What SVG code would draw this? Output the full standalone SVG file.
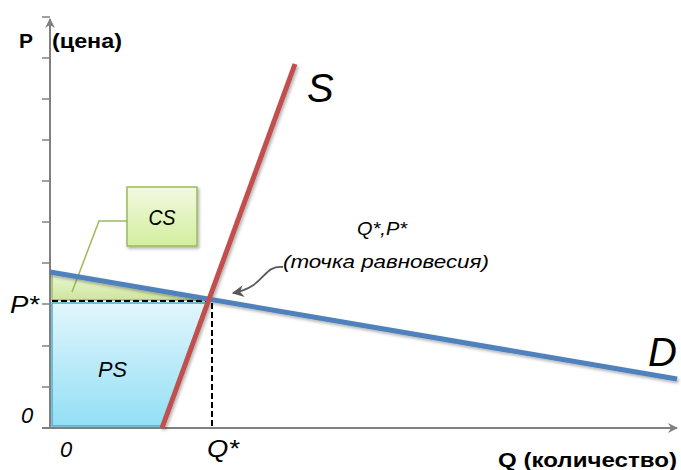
<svg xmlns="http://www.w3.org/2000/svg" width="681" height="470" viewBox="0 0 681 470">
<defs>
<style>
.axis{stroke:#808080;stroke-width:2;fill:none}
.tick{stroke:#808080;stroke-width:1.5}
.it{font-family:"Liberation Sans",Arial,sans-serif;font-style:italic;fill:#000}
.bd{font-family:"Liberation Sans",Arial,sans-serif;font-weight:bold;fill:#000}
.dash{stroke:#000;stroke-width:2;stroke-dasharray:6,3;fill:none}
</style>
<linearGradient id="gPS" x1="0" y1="0" x2="0" y2="1">
<stop offset="0" stop-color="#e2f6fc"/>
<stop offset="1" stop-color="#93dff5"/>
</linearGradient>
<linearGradient id="gCS" x1="0" y1="0" x2="0" y2="1">
<stop offset="0" stop-color="#eef7d8"/>
<stop offset="1" stop-color="#cde59c"/>
</linearGradient>
<linearGradient id="gBox" x1="0" y1="0" x2="0" y2="1">
<stop offset="0" stop-color="#f1f9e0"/>
<stop offset="1" stop-color="#d3ee9f"/>
</linearGradient>
<filter id="sh" x="-10%" y="-10%" width="130%" height="130%">
<feDropShadow dx="1.5" dy="2" stdDeviation="1.5" flood-color="#000" flood-opacity="0.3"/>
</filter>
<marker id="ah" viewBox="0 0 10 10" refX="9" refY="5" markerWidth="10" markerHeight="10" markerUnits="userSpaceOnUse" orient="auto">
<path d="M0,0 L10,5 L0,10 L3,5 Z" fill="#808080"/>
</marker>
<marker id="ah2" viewBox="0 0 10 10" refX="9" refY="5" markerWidth="12" markerHeight="12" markerUnits="userSpaceOnUse" orient="auto">
<path d="M0,0 L10,5 L0,10 L3,5 Z" fill="#595959"/>
</marker>
</defs>

<g id="areas">
<polygon id="ps-area" points="52,303 206,303 162,426 52,426" fill="url(#gPS)" stroke="#4bacc6" stroke-width="1.5"/>
<polygon id="cs-area" points="52,273 52,300 206,300" fill="url(#gCS)" stroke="#9bbb59" stroke-width="1.5"/>
</g>

<g id="axes">
<line class="axis" x1="50" y1="428" x2="50" y2="19" marker-end="url(#ah)"/>
<line class="axis" x1="42" y1="428" x2="677" y2="428" marker-end="url(#ah)"/>
<g class="tick">
<line x1="42" y1="17" x2="50" y2="17"/>
<line x1="42" y1="58" x2="50" y2="58"/>
<line x1="42" y1="99" x2="50" y2="99"/>
<line x1="42" y1="140" x2="50" y2="140"/>
<line x1="42" y1="181" x2="50" y2="181"/>
<line x1="42" y1="222" x2="50" y2="222"/>
<line x1="42" y1="263" x2="50" y2="263"/>
<line x1="42" y1="304" x2="50" y2="304"/>
<line x1="42" y1="346" x2="50" y2="346"/>
<line x1="42" y1="387" x2="50" y2="387"/>
</g>
</g>

<g id="connectors">
<polyline class="dash" points="52,301 212,301 212,428"/>
<polyline points="127,221 99,221 72,292" fill="none" stroke="#9bbb59" stroke-width="1.5"/>
<path d="M283,267 C262,265 266,287 233,293" fill="none" stroke="#595959" stroke-width="1.8" marker-end="url(#ah2)"/>
</g>

<g id="curves" filter="url(#sh)">
<line id="D" x1="50" y1="272" x2="677" y2="379" stroke="#4f81bd" stroke-width="5"/>
<line id="S" x1="162" y1="428" x2="295" y2="64" stroke="#c0504d" stroke-width="5"/>
</g>

<g id="cs-box">
<rect x="127" y="187" width="70" height="59" fill="url(#gBox)" stroke="#9bbb59" stroke-width="1.5" filter="url(#sh)"/>
<text class="it" x="162" y="225" font-size="22" text-anchor="middle" textLength="27" lengthAdjust="spacingAndGlyphs">CS</text>
</g>

<g id="labels">
<text class="bd" x="19" y="48" font-size="21">P</text>
<text class="bd" x="52" y="48" font-size="21" textLength="70" lengthAdjust="spacingAndGlyphs">(цена)</text>
<text class="bd" x="498" y="467" font-size="21" textLength="179" lengthAdjust="spacingAndGlyphs">Q (количество)</text>
<text class="it" x="307" y="102" font-size="40">S</text>
<text class="it" x="648" y="366" font-size="40">D</text>
<text class="it" x="10" y="313" font-size="23" textLength="29" lengthAdjust="spacingAndGlyphs">P*</text>
<text class="it" x="21" y="423" font-size="22">0</text>
<text class="it" x="60" y="457" font-size="22">0</text>
<text class="it" x="207" y="457" font-size="23" textLength="32" lengthAdjust="spacingAndGlyphs">Q*</text>
<text class="it" x="98" y="377" font-size="22" textLength="29" lengthAdjust="spacingAndGlyphs">PS</text>
<text class="it" x="357" y="235" font-size="19" textLength="50" lengthAdjust="spacingAndGlyphs">Q*,P*</text>
<text class="it" x="283" y="268" font-size="19" textLength="206" lengthAdjust="spacingAndGlyphs">(точка равновесия)</text>
</g>
</svg>
